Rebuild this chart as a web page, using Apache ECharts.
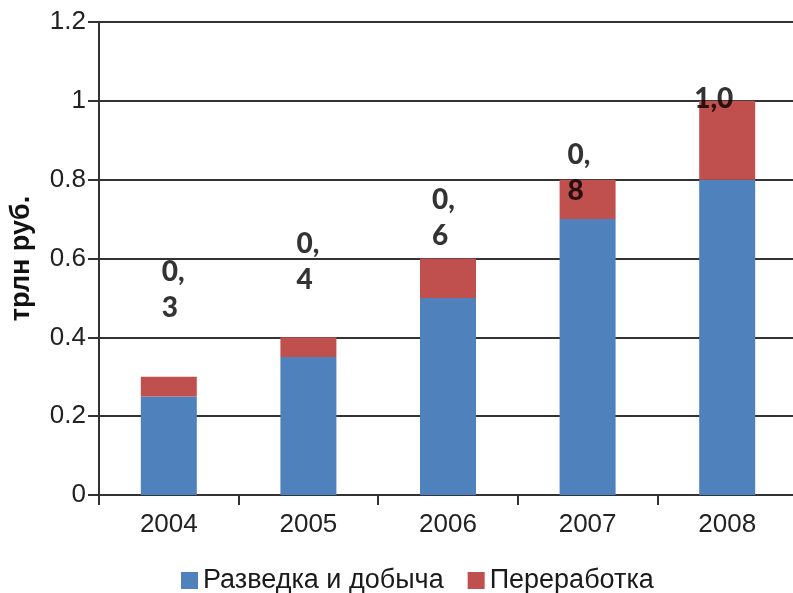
<!DOCTYPE html>
<html>
<head>
<meta charset="utf-8">
<script src="https://cdn.jsdelivr.net/npm/echarts@6/dist/echarts.min.js"></script>
<style>html,body{margin:0;padding:0;background:#fff}#c{width:793px;height:593px}</style>
</head>
<body>
<div id="c"></div>
<script>
var categories = ['2004', '2005', '2006', '2007', '2008'];
var exploration = [0.25, 0.35, 0.5, 0.7, 0.8];   // Разведка и добыча
var refining = [0.05, 0.05, 0.1, 0.1, 0.2];      // Переработка
var totals = [0.3, 0.4, 0.6, 0.8, 1.0];
var totalLabels = ['0,\n3', '0,\n4', '0,\n6', '0,\n8', '1,0'];
var yTicks = { min: 0, max: 1.2, interval: 0.2 };

// label placement styles (pixel offsets from the bar top)
var labelOffsets = [[-7, -87], [-12, -75], [-16, -41], [-20, -7], [-33, -2]];

var chart = echarts.init(document.getElementById('c'), null, { renderer: 'canvas' });
var axisFont = 'Liberation Sans, Arial, sans-serif';

var option = {
  animation: false,
  backgroundColor: '#fff',
  grid: { left: 99, top: 22, width: 698, height: 473, containLabel: false, outerBoundsMode: 'none' },
  legend: {
    data: ['Разведка и добыча', 'Переработка'],
    left: 176,
    top: 562,
    icon: 'rect',
    itemWidth: 17,
    itemHeight: 17,
    itemGap: 24,
    textStyle: { fontFamily: axisFont, fontSize: 27, color: '#1a1a1a' }
  },
  xAxis: {
    type: 'category',
    data: categories,
    boundaryGap: true,
    axisLine: { lineStyle: { color: '#333', width: 2 } },
    axisTick: { show: true, length: 10, alignWithLabel: false, lineStyle: { color: '#333', width: 2 } },
    axisLabel: { margin: 17, fontFamily: axisFont, fontSize: 26, color: '#222' },
    splitLine: { show: false }
  },
  yAxis: {
    type: 'value',
    min: yTicks.min,
    max: yTicks.max,
    interval: yTicks.interval,
    name: 'трлн руб.',
    nameLocation: 'middle',
    nameGap: 64,
    nameTextStyle: { fontFamily: axisFont, fontSize: 27, fontWeight: 'bold', color: '#111' },
    axisLine: { show: true, lineStyle: { color: '#333', width: 2 } },
    axisTick: { show: true, length: 11, lineStyle: { color: '#333', width: 2 } },
    axisLabel: {
      margin: 13, fontFamily: axisFont, fontSize: 26, color: '#222',
      formatter: function (v) { return String(Math.round(v * 10) / 10); }
    },
    splitLine: { show: true, lineStyle: { color: '#333', width: 2 } }
  },
  series: [
    {
      name: 'Разведка и добыча',
      type: 'bar',
      stack: 'total',
      barWidth: 56,
      data: exploration,
      itemStyle: { color: '#4F81BD' }
    },
    {
      name: 'Переработка',
      type: 'bar',
      stack: 'total',
      barWidth: 56,
      data: refining,
      itemStyle: { color: '#C0504D' }
    },
    {
      name: 'totals',
      type: 'scatter',
      symbolSize: 0,
      silent: true,
      z: 10,
      data: totals.map(function (v, i) {
        return {
          value: v,
          label: {
            show: true,
            position: 'inside',
            align: 'left',
            verticalAlign: 'middle',
            offset: labelOffsets[i],
            formatter: totalLabels[i]
          }
        };
      }),
      label: {
        fontFamily: 'Lato, "Open Sans", sans-serif',
        fontWeight: 900,
        fontSize: 28,
        lineHeight: 36,
        color: '#000'
      }
    }
  ]
};
chart.setOption(option);
</script>
</body>
</html>
